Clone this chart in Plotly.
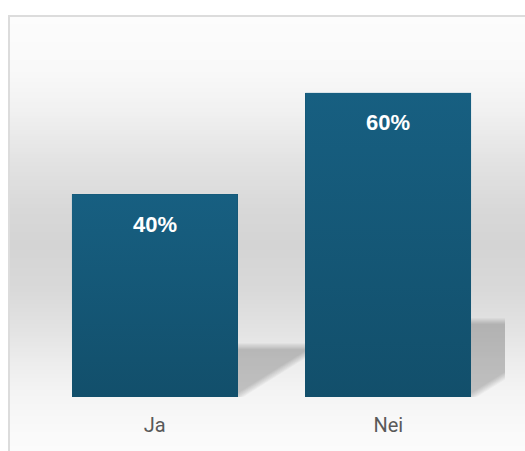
import plotly.graph_objects as go

# Survey answers and their shares (percent)
categories = ["Ja", "Nei"]
values = [40, 60]

# Figure geometry (pixels)
W, H = 525, 451
PLOT_L, PLOT_R, PLOT_T, PLOT_B = 38, 505, 32, 397
Y_MAX = 72
BAR_W = 0.71

px_per_x = (PLOT_R - PLOT_L) / len(categories)
px_per_y = (PLOT_B - PLOT_T) / Y_MAX

BAR_COLOR = "#124f6b"
BAR_TINT = "28,111,151"
TICK_COLOR = "#595959"

xs = list(range(len(categories)))

fig = go.Figure()

# Bars
fig.add_trace(go.Bar(
    x=xs, y=values, width=BAR_W,
    marker=dict(color=BAR_COLOR, line=dict(width=0)),
    hoverinfo="skip", showlegend=False,
))

# Lighter tint towards the top of each bar
for x, v in zip(xs, values):
    x0, x1 = x - BAR_W / 2, x + BAR_W / 2
    fig.add_trace(go.Scatter(
        x=[x0, x1, x1, x0, x0], y=[0, 0, v, v, 0],
        mode="lines", line=dict(width=0, color="rgba(0,0,0,0)"),
        fill="toself",
        fillgradient=dict(
            type="vertical",
            colorscale=[[0, f"rgba({BAR_TINT},0)"], [1, f"rgba({BAR_TINT},0.5)"]],
        ),
        hoverinfo="skip", showlegend=False,
    ))

shapes = []

# Vertical grey gradient behind the chart, drawn as thin bands
grad_stops = [(15, 252), (70, 249), (110, 241), (160, 227), (210, 216), (245, 212),
              (290, 217), (327, 226), (360, 236), (393, 244), (427, 249), (451, 251)]


def grey_at(py):
    for (a, ga), (b, gb) in zip(grad_stops, grad_stops[1:]):
        if a <= py <= b:
            t = (py - a) / (b - a)
            return round(ga + (gb - ga) * t)
    return grad_stops[-1][1]


BOX_L, BOX_T = 9, 16
for py in range(BOX_T, H, 2):
    g = grey_at(py + 1)
    shapes.append(dict(
        type="rect", xref="paper", yref="paper", layer="below",
        x0=BOX_L / W, x1=1.02, y0=1 - py / H, y1=1 - (py + 3) / H,
        fillcolor=f"rgb({g},{g},{g})", line=dict(width=0),
    ))

# Frame around the chart
shapes.append(dict(
    type="rect", xref="paper", yref="paper", layer="below",
    x0=BOX_L / W, x1=1.05, y0=1 - BOX_T / H, y1=-0.05,
    fillcolor="rgba(0,0,0,0)", line=dict(color="#dcdcdc", width=2),
))

# Soft perspective shadow cast to the right of each bar
SHADOW_H = 0.25
SHADOW_DX = 0.40
for x, v in zip(xs, values):
    x0, x1 = x - BAR_W / 2, x + BAR_W / 2
    h_px = v * px_per_y
    hs = SHADOW_H * h_px
    dx = SHADOW_DX * h_px
    for s in [-3, -2, -1, 0, 1, 2, 3]:
        top = hs - s
        shift = 1.9 * s
        pts = [
            (x0, 0),
            (x1 - shift / px_per_x, 0),
            (x1 + (top * dx / hs - shift) / px_per_x, top / px_per_y),
            (x0 + (top * dx / hs) / px_per_x, top / px_per_y),
        ]
        path = "M " + " L ".join(f"{px:.5f},{py:.5f}" for px, py in pts) + " Z"
        shapes.append(dict(
            type="path", xref="x", yref="y", layer="below", path=path,
            fillcolor="rgba(0,0,0,0.033)", line=dict(width=0),
        ))

# Value labels inside the bars
annotations = []
for x, v in zip(xs, values):
    annotations.append(dict(
        x=x, y=v, xref="x", yref="y", text=f"{v}%", showarrow=False,
        yanchor="middle", xanchor="center", yshift=-30,
        font=dict(family="Liberation Sans, Arial, sans-serif", size=22,
                  color="white", weight="bold"),
    ))

fig.update_layout(
    width=W, height=H,
    margin=dict(l=0, r=0, t=0, b=0),
    paper_bgcolor="white",
    plot_bgcolor="rgba(0,0,0,0)",
    shapes=shapes,
    annotations=annotations,
    bargap=0,
    xaxis=dict(
        domain=[PLOT_L / W, PLOT_R / W],
        range=[-0.5, len(categories) - 0.5],
        tickvals=xs, ticktext=categories,
        showgrid=False, zeroline=False, showline=False,
        ticks="outside", ticklen=10, tickcolor="rgba(0,0,0,0)",
        tickfont=dict(family="Roboto, sans-serif", size=20, color=TICK_COLOR),
        fixedrange=True,
    ),
    yaxis=dict(
        domain=[1 - PLOT_B / H, 1 - PLOT_T / H],
        range=[0, Y_MAX],
        visible=False, showgrid=False, zeroline=False,
        fixedrange=True,
    ),
    showlegend=False,
)

fig.write_html("out.html", config={"displayModeBar": False})
